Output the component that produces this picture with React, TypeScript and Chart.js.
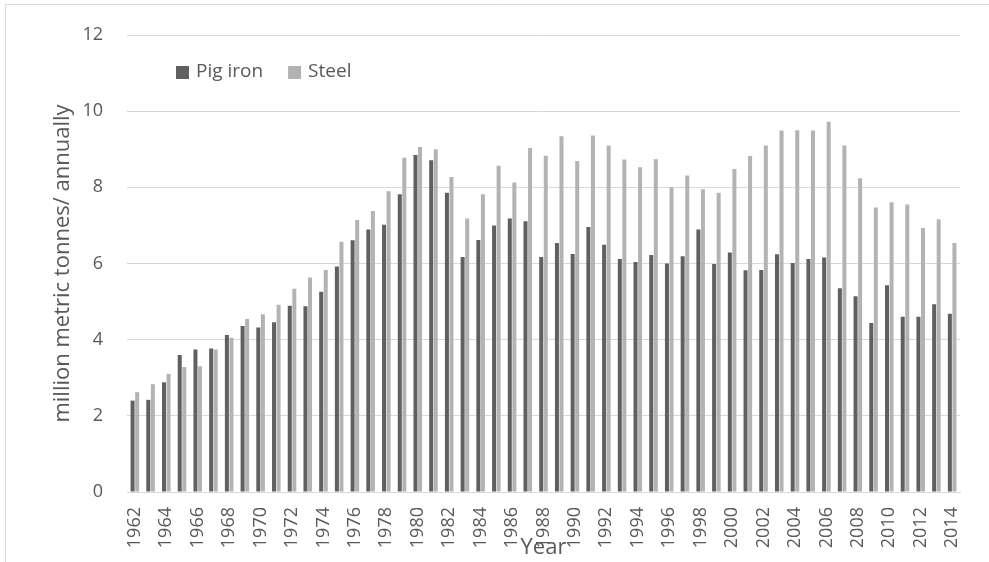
import React, { useEffect, useRef } from "react";
import { Chart, registerables } from "chart.js";

Chart.register(...registerables);

const years: string[] = [
  "1962", "1963", "1964", "1965", "1966", "1967", "1968", "1969", "1970", "1971",
  "1972", "1973", "1974", "1975", "1976", "1977", "1978", "1979", "1980", "1981",
  "1982", "1983", "1984", "1985", "1986", "1987", "1988", "1989", "1990", "1991",
  "1992", "1993", "1994", "1995", "1996", "1997", "1998", "1999", "2000", "2001",
  "2002", "2003", "2004", "2005", "2006", "2007", "2008", "2009", "2010", "2011",
  "2012", "2013", "2014",
];

const pigIron: number[] = [
  2.40, 2.42, 2.88, 3.60, 3.74, 3.77, 4.12, 4.36, 4.32, 4.46,
  4.89, 4.88, 5.26, 5.92, 6.61, 6.89, 7.02, 7.82, 8.85, 8.71,
  7.86, 6.17, 6.62, 7.00, 7.18, 7.11, 6.17, 6.54, 6.25, 6.96,
  6.49, 6.12, 6.04, 6.22, 6.00, 6.19, 6.89, 5.99, 6.29, 5.82,
  5.83, 6.24, 6.01, 6.12, 6.16, 5.35, 5.14, 4.44, 5.43, 4.60,
  4.60, 4.93, 4.68,
];

const steel: number[] = [
  2.62, 2.83, 3.10, 3.28, 3.30, 3.74, 4.05, 4.54, 4.67, 4.92,
  5.34, 5.63, 5.83, 6.57, 7.14, 7.38, 7.90, 8.78, 9.06, 9.00,
  8.27, 7.18, 7.82, 8.57, 8.13, 9.03, 8.83, 9.34, 8.69, 9.36,
  9.10, 8.73, 8.53, 8.74, 8.00, 8.31, 7.95, 7.86, 8.48, 8.82,
  9.10, 9.49, 9.50, 9.49, 9.72, 9.10, 8.24, 7.47, 7.61, 7.55,
  6.93, 7.16, 6.54,
];

const seriesNames = ["Pig iron", "Steel"];
const seriesColors = ["#606060", "#b3b3b3"];
const yAxisTitle = "million metric tonnes/ annually";
const xAxisTitle = "Year";
const yMin = 0;
const yMax = 12;
const yStep = 2;

const FONT = "'Open Sans', sans-serif";
const TEXT = "#595959";
const GRID = "#d9d9d9";

const framePlugin = {
  id: "frame",
  beforeDraw(chart: any) {
    const ctx = chart.ctx;
    ctx.save();
    ctx.strokeStyle = GRID;
    ctx.lineWidth = 1;
    ctx.beginPath();
    ctx.moveTo(5.5, chart.height);
    ctx.lineTo(5.5, 4.5);
    ctx.lineTo(chart.width, 4.5);
    ctx.stroke();
    ctx.restore();
  },
};

const legendPlugin = {
  id: "insideLegend",
  afterDraw(chart: any) {
    const ctx = chart.ctx;
    ctx.save();
    ctx.font = `19px ${FONT}`;
    ctx.textBaseline = "middle";
    ctx.textAlign = "left";
    let x = 176;
    const yc = 72;
    chart.data.datasets.forEach((ds: any) => {
      ctx.fillStyle = ds.backgroundColor;
      ctx.fillRect(x, yc - 6, 13, 13);
      x += 20;
      ctx.fillStyle = TEXT;
      ctx.fillText(ds.label, x, yc);
      x += ctx.measureText(ds.label).width + 25;
    });
    ctx.restore();
  },
};

export default function App() {
  const canvasRef = useRef<HTMLCanvasElement | null>(null);

  useEffect(() => {
    if (!canvasRef.current) return;
    const chart = new Chart(canvasRef.current, {
      type: "bar",
      data: {
        labels: years,
        datasets: [
          {
            label: seriesNames[0],
            data: pigIron,
            backgroundColor: seriesColors[0],
            categoryPercentage: 0.58,
            barPercentage: 0.88,
          },
          {
            label: seriesNames[1],
            data: steel,
            backgroundColor: seriesColors[1],
            categoryPercentage: 0.58,
            barPercentage: 0.88,
          },
        ],
      },
      options: {
        responsive: false,
        animation: false,
        layout: { padding: { top: 35, left: 50, right: 27, bottom: 0 } },
        plugins: {
          legend: { display: false },
          tooltip: { enabled: false },
        },
        scales: {
          x: {
            grid: { display: false, drawTicks: false },
            border: { display: true, color: GRID, width: 1 },
            ticks: {
              color: TEXT,
              font: { family: FONT, size: 18 },
              autoSkip: false,
              minRotation: 90,
              maxRotation: 90,
              padding: 15,
              callback: (_v: any, i: number) => (i % 2 === 0 ? years[i] : ""),
            },
            title: {
              display: true,
              text: xAxisTitle,
              color: TEXT,
              font: { family: FONT, size: 22 },
              padding: { top: 0, bottom: 1 },
            },
            afterFit: (scale: any) => {
              scale.height = 70;
            },
          },
          y: {
            min: yMin,
            max: yMax,
            grid: { color: GRID, lineWidth: 1, drawTicks: false },
            border: { display: false },
            ticks: {
              stepSize: yStep,
              color: TEXT,
              font: { family: FONT, size: 18 },
              padding: 24,
            },
            title: {
              display: true,
              text: yAxisTitle,
              color: TEXT,
              font: { family: FONT, size: 22 },
              padding: { top: 0, bottom: 0 },
            },
            afterFit: (scale: any) => {
              scale.width = 77;
            },
          },
        },
      },
      plugins: [framePlugin, legendPlugin],
    });
    return () => chart.destroy();
  }, []);

  return (
    <div style={{ position: "absolute", left: 0, top: 0, width: 989, height: 562, background: "#fff" }}>
      <canvas ref={canvasRef} width={989} height={562} style={{ display: "block" }} />
    </div>
  );
}
